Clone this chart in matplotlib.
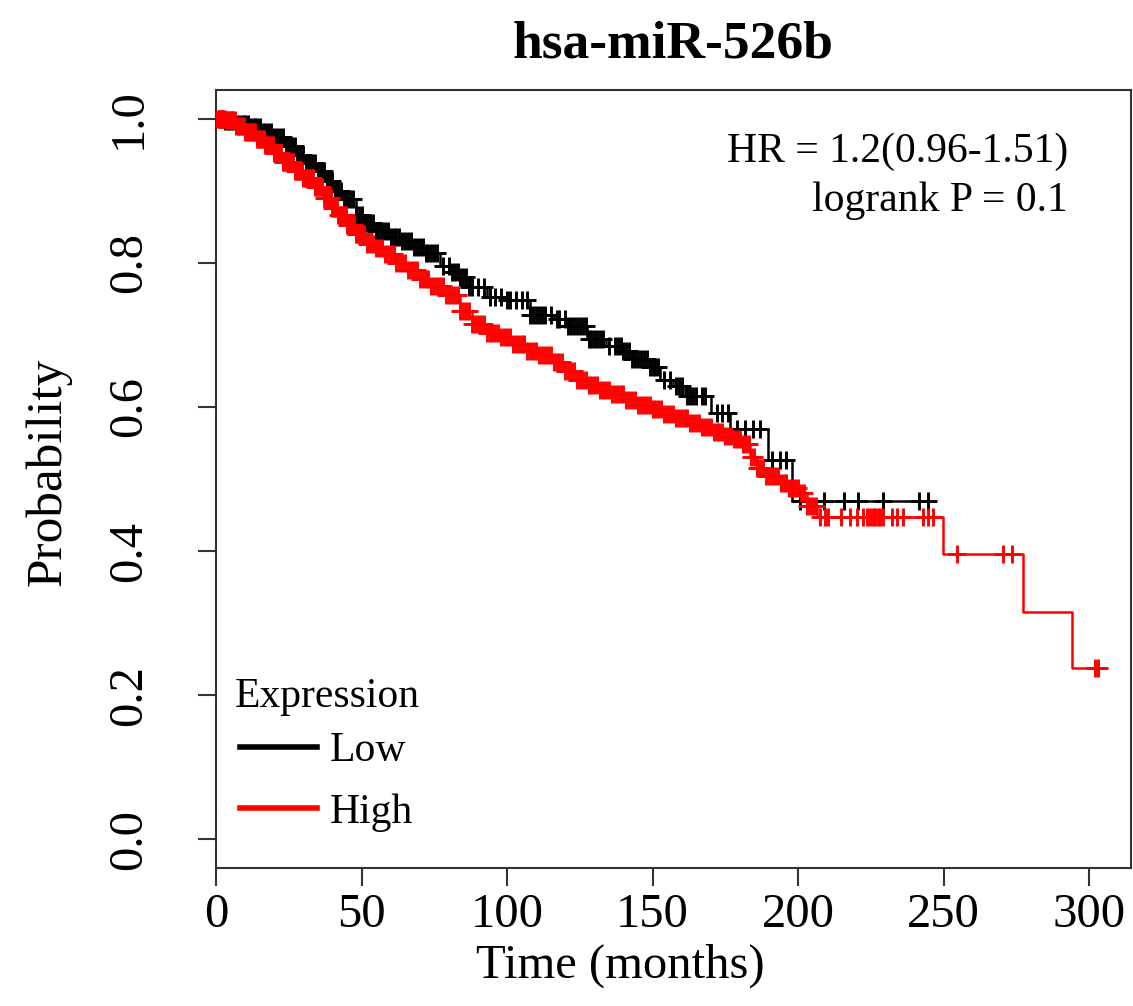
import numpy as np
import matplotlib
matplotlib.use("Agg")
import matplotlib.pyplot as plt
from matplotlib.lines import Line2D

plt.rcParams['font.family'] = ['Liberation Serif', 'DejaVu Serif']

# ---------------- data ----------------
title = "hsa-miR-526b"
x_ticks = [0, 50, 100, 150, 200, 250, 300]
y_ticks = [0.0, 0.2, 0.4, 0.6, 0.8, 1.0]
group_labels = ["Low", "High"]
group_colors = ["black", "red"]

# Low expression: step times and survival after each step
low_times = [0, 3, 7, 12, 16, 20, 24, 27.5, 31, 34.4, 38, 41, 44, 48, 51, 55, 60, 64,
             68, 72, 77, 81, 84, 87, 93, 99, 108, 116, 121, 127.5, 134, 140, 143, 149,
             152.6, 157, 161, 170, 176.6, 189.7, 198]
low_surv = [1.0, 0.997, 0.993, 0.988, 0.982, 0.975, 0.962, 0.95, 0.938, 0.927, 0.913,
            0.9, 0.888, 0.867, 0.855, 0.844, 0.836, 0.83, 0.822, 0.814, 0.795, 0.787,
            0.78, 0.767, 0.753, 0.749, 0.728, 0.722, 0.712, 0.694, 0.684, 0.678, 0.666,
            0.656, 0.638, 0.629, 0.615, 0.592, 0.569, 0.527, 0.469]
low_end = 244.8
low_censor = [1.5, 2, 3, 4, 4.5, 5, 6, 7, 8, 9, 9.5, 10, 11, 12, 13, 13.5, 14, 15, 16,
              17, 18, 19, 20, 21, 22, 23, 24, 25, 26, 27, 28, 29, 30, 31, 32, 33, 34,
              35, 36, 37, 38, 39, 40, 41, 42, 43, 44, 45, 46, 47, 48, 49, 50, 51, 52,
              53, 54, 55, 56, 57, 58, 59, 60, 61, 62, 63, 64, 65, 66, 67, 68, 69, 70,
              71, 72, 73, 74, 75, 76, 78, 80, 81, 82, 83, 84, 85, 86, 87, 88, 90, 92,
              94, 96, 98, 100, 101, 103, 105, 107, 108, 109, 110, 111, 112, 113, 115,
              117, 118, 120, 121, 122, 123, 124, 125, 126, 127, 128, 129, 130, 131, 132,
              133, 135, 137, 138, 139, 140, 141, 142, 143, 144, 145, 146, 147, 148, 149,
              150, 151, 152, 154, 156, 158, 159, 160, 162, 163, 164, 165, 167, 168,
              172.1, 173.8, 176, 178.9, 181.8, 184.6, 186.9, 191, 193.8, 195.9, 200.7,
              208.9, 215.9, 220.5, 229.3, 241.7, 244.8]

# High expression
high_times = [0, 3.4, 7, 10, 14, 17, 20, 23, 27, 30, 34, 37, 40, 42, 45, 48, 52, 55, 58,
              62, 66, 70, 74, 79, 84, 88, 93, 97.6, 102, 107, 111, 116, 120, 124, 128,
              132, 136, 141, 145, 150, 154, 158, 163, 167, 171, 175, 178, 181, 183.5, 186,
              189, 194, 197, 200.7, 203, 206.5, 249.8, 277.4, 294]
high_surv = [1.0, 0.998, 0.99, 0.982, 0.972, 0.964, 0.952, 0.94, 0.928, 0.918, 0.905,
             0.89, 0.876, 0.867, 0.852, 0.84, 0.826, 0.82, 0.813, 0.8, 0.79, 0.778, 0.768,
             0.755, 0.733, 0.715, 0.703, 0.697, 0.687, 0.678, 0.672, 0.662, 0.65, 0.638,
             0.63, 0.624, 0.618, 0.61, 0.603, 0.597, 0.59, 0.584, 0.578, 0.572, 0.565,
             0.56, 0.555, 0.548, 0.53, 0.515, 0.504, 0.495, 0.488, 0.481, 0.462, 0.447,
             0.3955, 0.316, 0.238]
high_end = 306
high_censor = [0.5, 1, 1.5, 2, 2.5, 3, 3.5, 4, 4.5, 5, 5.5, 6, 6.5, 7, 7.5, 8, 8.5, 9,
               9.5, 10, 10.5, 11, 11.5, 12, 12.5, 13, 13.5, 14, 14.5, 15, 15.5, 16, 16.5,
               17, 17.5, 18, 18.5, 19, 19.5, 20, 20.5, 21, 21.5, 22, 22.5, 23, 23.5, 24,
               24.5, 25, 25.5, 26, 26.5, 27, 27.5, 28, 28.5, 29, 29.5, 30, 30.5, 31, 31.5,
               32, 32.5, 33, 33.5, 34, 34.5, 35, 35.5, 36, 36.5, 37, 37.5, 38, 38.5, 39,
               39.5, 40, 40.5, 41, 41.5, 42, 42.5, 43, 43.5, 44, 44.5, 45, 45.5, 46, 46.5,
               47, 47.5, 48, 48.5, 49, 49.5, 50, 51, 52, 53, 54, 55, 56, 57, 58, 59,
               60, 61, 62, 63, 64, 65, 66, 67, 68, 69, 70, 71, 72, 73, 74, 75, 76, 77, 78,
               79, 80, 81, 82, 83, 84, 85, 86, 87, 88, 89, 90, 91, 92, 93, 94, 95, 96, 97,
               98, 99, 100, 101, 102, 103, 104, 105, 106, 107, 108, 109, 110, 111, 112,
               113, 114, 115, 116, 117, 118, 119, 120, 121, 122, 123, 124, 125, 126, 127,
               128, 129, 130, 131, 132, 133, 134, 135, 136, 137, 138, 139, 140, 141, 142,
               143, 144, 145, 146, 147, 148, 149, 150, 151, 152, 153, 154, 155, 156, 157,
               158, 159, 160, 161, 162, 163, 164, 165, 166, 167, 168, 169, 170, 171, 172,
               173, 174, 175, 176, 177, 178, 179, 180, 181, 182, 183, 184, 185, 186, 187,
               188, 189, 190, 191, 192, 193, 194, 195, 196, 197, 198, 199, 200, 201,
               202, 203, 204, 205, 206, 207.5,
               209.3, 210.3, 214.7, 217.9, 220.2, 222.2, 223.6, 224.7, 225.7, 226.5, 227.3,
               228.2, 229.1, 232.2, 233.9, 236.2, 243.1, 244.8, 246.5, 254.6, 270.4, 273.6,
               302, 303]

hr_text = "HR = 1.2(0.96-1.51)"
p_text = "logrank P = 0.1"
legend_title = "Expression"

# ---------------- figure ----------------
W, H = 1133, 1006
fig = plt.figure(figsize=(W / 100, H / 100), dpi=100)
ax = fig.add_axes([216 / W, 1 - 868 / H, (1131 - 216) / W, (868 - 90) / H])

def draw_km(times, surv, end, censor, color):
    t = np.asarray(times, float)
    s = np.asarray(surv, float)
    tx = np.append(t, end)
    sx = np.append(s, s[-1])
    ax.step(tx, sx, where='post', color=color, lw=1.8, zorder=2)
    c = np.asarray(censor, float)
    idx = np.searchsorted(t, c, side='right') - 1
    ax.plot(c, s[idx], linestyle='none', marker='+', markersize=13,
            markeredgewidth=2.1, color=color, zorder=3)

draw_km(low_times, low_surv, low_end, low_censor, group_colors[0])
draw_km(high_times, high_surv, high_end, high_censor, group_colors[1])

ax.set_xlim(0, 314.4)
ax.set_ylim(-0.04, 1.04)
ax.set_xticks(x_ticks)
ax.set_yticks(y_ticks)
ax.set_xticklabels([str(v) for v in x_ticks])
ax.set_yticklabels([f"{v:.1f}" for v in y_ticks])
for sp in ax.spines.values():
    sp.set_color('#333333')
    sp.set_linewidth(1.5)
ax.tick_params(axis='both', direction='out', length=13, width=1.5, color='#333333',
               labelsize=35)
ax.tick_params(axis='x', pad=5)
ax.tick_params(axis='y', pad=34)
for lbl in ax.get_yticklabels():
    lbl.set_rotation(90)
    lbl.set_va('center')
    lbl.set_ha('right')

fig.text(673 / W, 1 - 45 / H, title, ha='center', va='center', fontsize=38.5,
         fontweight='bold')
fig.text(620 / W, 1 - 966 / H, "Time (months)", ha='center', va='center', fontsize=35)
fig.text(48 / W, 1 - 472 / H, "Probability", ha='center', va='center', fontsize=37,
         rotation=90)

ax.text(1068 / W, 1 - 152 / H, hr_text, transform=fig.transFigure, ha='right',
        va='center', fontsize=30)
ax.text(1068 / W, 1 - 201 / H, p_text, transform=fig.transFigure, ha='right',
        va='center', fontsize=30)

handles = [Line2D([], [], color=c, lw=4) for c in group_colors]
leg = ax.legend(handles, group_labels, loc='lower left',
                bbox_to_anchor=(0.0033, 0.02), frameon=False, fontsize=30,
                handlelength=1.85, handletextpad=0.3, labelspacing=0.55,
                borderaxespad=0.0, borderpad=0.5)
ax.text(235 / W, 1 - 697 / H, legend_title, transform=fig.transFigure, ha='left',
        va='center', fontsize=30)

fig.savefig("out.png", dpi=100)
